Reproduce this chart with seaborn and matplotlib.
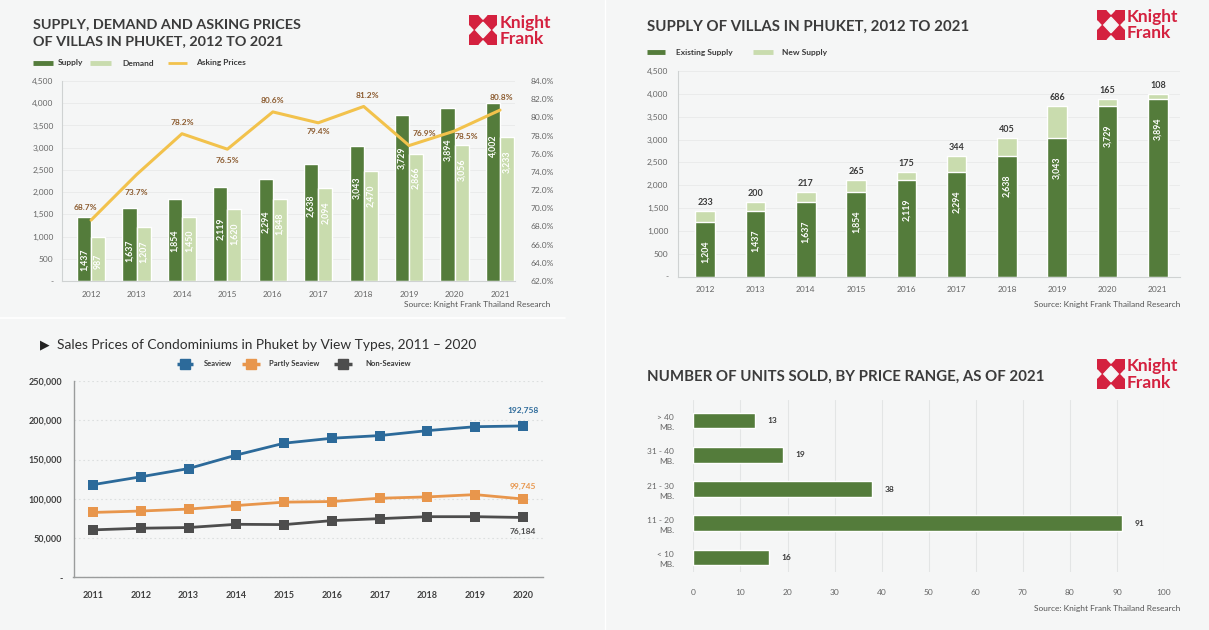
import numpy as np
import pandas as pd
import matplotlib
matplotlib.use("Agg")
import matplotlib.pyplot as plt
from matplotlib.lines import Line2D
from matplotlib.patches import Rectangle, Polygon
import seaborn as sns

# ---------------- data ----------------
years = [2012, 2013, 2014, 2015, 2016, 2017, 2018, 2019, 2020, 2021]
supply = [1437, 1637, 1854, 2119, 2294, 2638, 3043, 3729, 3894, 4002]
demand = [987, 1207, 1450, 1620, 1848, 2094, 2470, 2866, 3056, 3233]
asking_pct = [68.7, 73.7, 78.2, 76.5, 80.6, 79.4, 81.2, 76.9, 78.5, 80.8]

existing_supply = [1204, 1437, 1637, 1854, 2119, 2294, 2638, 3043, 3729, 3894]
new_supply = [233, 200, 217, 265, 175, 344, 405, 686, 165, 108]

condo_years = [2011, 2012, 2013, 2014, 2015, 2016, 2017, 2018, 2019, 2020]
seaview = [118000, 128000, 138500, 155700, 170800, 177100, 180500, 186800, 191800, 192758]
partly_seaview = [82600, 84400, 86900, 91400, 95700, 96500, 100700, 102400, 105300, 99745]
non_seaview = [60400, 62500, 63400, 67500, 67100, 72200, 74700, 77200, 77200, 76184]

price_ranges = ["> 40\nMB.", "31 - 40\nMB.", "21 - 30\nMB.", "11 - 20\nMB.", "< 10\nMB."]
units_sold = [13, 19, 38, 91, 16]

# ---------------- style ----------------
W, H = 1209, 630
BG = "#f5f6f6"
DARK = "#547c3b"
LIGHT = "#c9dcae"
GOLD = "#f2c24c"
BROWN = "#8c5c30"
BLUE = "#2c6a9a"
ORANGE = "#e8964c"
GREY = "#4d4d4d"
RED = "#d4213f"
TXT = "#3b3b3b"
TICK = "#666666"

sns.set_theme(style="white")
plt.rcParams["font.family"] = ["Lato", "DejaVu Sans"]
plt.rcParams["axes.facecolor"] = BG

fig = plt.figure(figsize=(W / 100, H / 100), dpi=100, facecolor=BG)


def fx(x):
    return x / W


def fy(y):
    return 1 - y / H


def axes_px(x0, y0, x1, y1):
    return fig.add_axes([x0 / W, 1 - y1 / H, (x1 - x0) / W, (y1 - y0) / H])


def ftext(x, y, s, **kw):
    return fig.text(fx(x), fy(y), s, **kw)


def legend_line(x0, x1, y, color, lw=3.5, marker=None):
    fig.add_artist(Line2D([fx(x0), fx(x1)], [fy(y), fy(y)], transform=fig.transFigure,
                          color=color, lw=lw, solid_capstyle="butt"))
    if marker:
        fig.add_artist(Line2D([fx((x0 + x1) / 2)], [fy(y)], transform=fig.transFigure,
                              color=color, marker=marker, markersize=6.5, lw=0))


def logo(x0, y0, tx, ty1, ty2):
    la = axes_px(x0, y0, x0 + 28, y0 + 30)
    la.set_xlim(0, 1)
    la.set_ylim(0, 1)
    la.axis("off")
    la.add_patch(Rectangle((0, 0), 1, 1, color=RED))
    la.add_patch(Polygon([(0.5, 0.24), (0.76, 0.5), (0.5, 0.76), (0.24, 0.5)], color=BG))
    for pts in ([(0.36, 1.0), (0.64, 1.0), (0.5, 0.86)], [(0.36, 0.0), (0.64, 0.0), (0.5, 0.14)],
                [(0.0, 0.36), (0.0, 0.64), (0.14, 0.5)], [(1.0, 0.36), (1.0, 0.64), (0.86, 0.5)]):
        la.add_patch(Polygon(pts, color=BG))
    ftext(tx, ty1, "Knight", color=RED, fontsize=12.5, fontweight="bold", va="center", ha="left")
    ftext(tx, ty2, "Frank", color=RED, fontsize=12.5, fontweight="bold", va="center", ha="left")


# faint panel separators
fig.add_artist(Line2D([fx(0), fx(565)], [fy(318), fy(318)], transform=fig.transFigure, color="white", lw=1.2))
fig.add_artist(Line2D([fx(605), fx(605)], [fy(0), fy(630)], transform=fig.transFigure, color="white", lw=1.0))

# =============== Top-left: supply, demand, asking prices ===============
ftext(33, 24, "SUPPLY, DEMAND AND ASKING PRICES", fontsize=10.4, fontweight="bold", color=TXT, va="center")
ftext(33, 41, "OF VILLAS IN PHUKET, 2012 TO 2021", fontsize=10.4, fontweight="bold", color=TXT, va="center")
logo(469, 15, 500, 23, 39)
legend_line(33, 53, 63, DARK)
ftext(58, 63, "Supply", fontsize=6, fontweight="bold", color=TXT, va="center")
legend_line(90, 111, 63, LIGHT)
ftext(122, 63, "Demand", fontsize=6, fontweight="bold", color=TXT, va="center")
legend_line(168, 187, 63, GOLD, lw=2)
ftext(196, 63, "Asking Prices", fontsize=6, fontweight="bold", color=TXT, va="center")

df1 = pd.DataFrame({
    "year": [str(y) for y in years] * 2,
    "units": supply + demand,
    "series": ["Supply"] * len(years) + ["Demand"] * len(years),
})
ax1 = axes_px(62, 81, 515, 281)
sns.barplot(data=df1, x="year", y="units", hue="series", palette=[DARK, LIGHT],
            width=0.62, gap=0, saturation=1, legend=False, ax=ax1)
ax1.set_xlim(-0.64, 9.33)
ax1.set_ylim(0, 4500)
ax1.set_yticks(np.arange(0, 4501, 500))
ax1.set_yticklabels(["-"] + [f"{v:,}" for v in range(500, 4501, 500)])
ax1.set_xlabel("")
ax1.set_ylabel("")
ax1.tick_params(axis="both", length=0, labelsize=6, colors=TICK)
ax1.tick_params(axis="y", pad=6)
ax1.tick_params(axis="x", pad=7)
ax1.yaxis.grid(True, color="#e8eaea", lw=0.6)
ax1.set_axisbelow(True)
for s in ["top", "right"]:
    ax1.spines[s].set_visible(False)
for s in ["left", "bottom"]:
    ax1.spines[s].set_color("#cfd2d2")
    ax1.spines[s].set_linewidth(0.8)
for i, (s_, d_) in enumerate(zip(supply, demand)):
    ax1.text(i - 0.155, s_ - 950, f"{s_:,}", rotation=90, ha="center", va="center",
             color="white", fontsize=6.3, fontweight="bold")
    ax1.text(i + 0.155, d_ - 550, f"{d_:,}", rotation=90, ha="center", va="center",
             color="white", fontsize=6.3, fontweight="bold")

ax1b = ax1.twinx()
ax1b.set_position(ax1.get_position())
sns.lineplot(x=np.arange(len(years)), y=asking_pct, color=GOLD, lw=2.2, ax=ax1b)
ax1b.set_ylim(62, 84)
ax1b.set_xlim(-0.64, 9.33)
ax1b.set_yticks(np.arange(62, 84.1, 2))
ax1b.set_yticklabels([f"{t:.1f}%" for t in np.arange(62, 84.1, 2)])
ax1b.tick_params(axis="y", length=0, labelsize=6, colors=TICK, pad=11)
ax1b.set_ylabel("")
for s in ax1b.spines.values():
    s.set_visible(False)
pct_offsets_px = [(-6, 13), (0, -18), (0, 11), (0, -11.5), (0, 11), (0, -9), (4, 10.5), (15, 12.5), (12, -6), (1, 13)]
for i, (p, off) in enumerate(zip(asking_pct, pct_offsets_px)):
    ax1b.annotate(f"{p:.1f}%", (i, p), xytext=(off[0] * 0.72, off[1] * 0.72), textcoords="offset points",
                  ha="center", va="center", fontsize=6, fontweight="bold", color=BROWN)
ftext(550, 304, "Source: Knight Frank Thailand Research", fontsize=6, color="#555555", ha="right", va="center")

# =============== Top-right: supply of villas ===============
ftext(647, 27, "SUPPLY OF VILLAS IN PHUKET, 2012 TO 2021", fontsize=10.8, fontweight="bold", color=TXT, va="center")
logo(1097, 10, 1127, 17, 33)
legend_line(647, 665, 52, DARK)
ftext(676, 52, "Existing Supply", fontsize=6, fontweight="bold", color=TXT, va="center")
legend_line(753, 773, 52, LIGHT)
ftext(782, 52, "New Supply", fontsize=6, fontweight="bold", color=TXT, va="center")

ax2 = axes_px(678, 71, 1180, 276.7)
year_lbl = [str(y) for y in years]
total_supply = [e + n for e, n in zip(existing_supply, new_supply)]
sns.barplot(x=year_lbl, y=total_supply, color=LIGHT, width=0.39, saturation=1, ax=ax2)
sns.barplot(x=year_lbl, y=existing_supply, color=DARK, width=0.39, saturation=1, ax=ax2)
ax2.set_xlim(-0.54, 9.44)
ax2.set_ylim(0, 4500)
ax2.set_yticks(np.arange(0, 4501, 500))
ax2.set_yticklabels(["-"] + [f"{v:,}" for v in range(500, 4501, 500)])
ax2.tick_params(axis="both", length=0, labelsize=6, colors=TICK)
ax2.tick_params(axis="y", pad=7)
ax2.tick_params(axis="x", pad=7)
ax2.yaxis.grid(True, color="#e8eaea", lw=0.6)
ax2.set_axisbelow(True)
for s in ["top", "right"]:
    ax2.spines[s].set_visible(False)
for s in ["left", "bottom"]:
    ax2.spines[s].set_color("#cfd2d2")
    ax2.spines[s].set_linewidth(0.8)
for i, (e, n, t) in enumerate(zip(existing_supply, new_supply, total_supply)):
    ax2.text(i, e - 650, f"{e:,}", rotation=90, ha="center", va="center", color="white",
             fontsize=6.3, fontweight="bold")
    ax2.annotate(f"{n}", (i, t), xytext=(0, 6), textcoords="offset points", ha="center",
                 va="center", fontsize=6.5, fontweight="bold", color=TXT)
ftext(1180, 304, "Source: Knight Frank Thailand Research", fontsize=6, color="#555555", ha="right", va="center")

# =============== Bottom-left: condo prices ===============
ftext(40, 345, "\u25B6", fontsize=9, color="#222222", va="center", ha="left", family=["DejaVu Sans"])
ftext(57, 345, "Sales Prices of Condominiums in Phuket by View Types, 2011 \u2013 2020",
      fontsize=9.9, color="#2f2f2f", va="center", ha="left")
legend_line(177, 193, 364, BLUE, lw=2.5, marker="s")
ftext(204, 364, "Seaview", fontsize=5.5, fontweight="bold", color=TXT, va="center")
legend_line(242, 260, 364, ORANGE, lw=2.5, marker="s")
ftext(269, 364, "Partly Seaview", fontsize=5.5, fontweight="bold", color=TXT, va="center")
legend_line(334, 352, 364, GREY, lw=2.5, marker="s")
ftext(365, 364, "Non-Seaview", fontsize=5.5, fontweight="bold", color=TXT, va="center")

ax3 = axes_px(73.5, 381, 543, 577.3)
for vals, col in ((seaview, BLUE), (partly_seaview, ORANGE), (non_seaview, GREY)):
    sns.lineplot(x=condo_years, y=vals, color=col, lw=2, marker="s", markersize=7,
                 markeredgewidth=0, ax=ax3)
ax3.set_xlim(2011 - 0.41, 2020 + 0.42)
ax3.set_ylim(0, 250000)
ax3.set_xticks(condo_years)
ax3.set_xticklabels([str(y) for y in condo_years])
ax3.set_yticks(np.arange(0, 250001, 50000))
ax3.set_yticklabels(["-"] + [f"{v:,}" for v in range(50000, 250001, 50000)])
ax3.tick_params(axis="both", length=0, labelsize=6.5, colors="#3f3f3f")
ax3.tick_params(axis="y", pad=8)
ax3.tick_params(axis="x", pad=10)
for lbl in ax3.get_xticklabels() + ax3.get_yticklabels():
    lbl.set_fontweight("bold")
ax3.yaxis.grid(True, color="#dcdfdf", lw=0.8, ls=(0, (1.5, 2.5)))
ax3.set_axisbelow(True)
for s in ["top", "right"]:
    ax3.spines[s].set_visible(False)
for s in ["left", "bottom"]:
    ax3.spines[s].set_color("#9a9c9c")
    ax3.spines[s].set_linewidth(1.0)
ax3.annotate(f"{seaview[-1]:,}", (condo_years[-1], seaview[-1]), xytext=(0, 11), textcoords="offset points",
             ha="center", va="center", fontsize=6, color=BLUE, fontweight="bold")
ax3.annotate(f"{partly_seaview[-1]:,}", (condo_years[-1], partly_seaview[-1]), xytext=(0, 9),
             textcoords="offset points", ha="center", va="center", fontsize=6, color=ORANGE, fontweight="bold")
ax3.annotate(f"{non_seaview[-1]:,}", (condo_years[-1], non_seaview[-1]), xytext=(0, -10),
             textcoords="offset points", ha="center", va="center", fontsize=6, color=GREY, fontweight="bold")

# =============== Bottom-right: units sold ===============
ftext(647, 377, "NUMBER OF UNITS SOLD, BY PRICE RANGE, AS OF 2021", fontsize=10.8, fontweight="bold",
      color=TXT, va="center")
logo(1097, 359, 1127, 366, 383)

ax4 = axes_px(693.4, 400, 1164, 572)
sns.barplot(x=units_sold, y=price_ranges, orient="h", color=DARK, width=0.46, saturation=1, ax=ax4)
ax4.set_xlim(0, 100)
ax4.set_ylim(4.42, -0.6)
ax4.set_xticks(np.arange(0, 101, 10))
ax4.tick_params(axis="both", length=0, labelsize=6, colors=TICK)
ax4.tick_params(axis="x", pad=12)
ax4.tick_params(axis="y", pad=14)
for lbl in ax4.get_yticklabels():
    lbl.set_horizontalalignment("right")
    lbl.set_multialignment("right")
    lbl.set_linespacing(1.5)
ax4.xaxis.grid(True, color="#e3e5e5", lw=0.8)
ax4.set_axisbelow(True)
for s in ax4.spines.values():
    s.set_visible(False)
for i, v in enumerate(units_sold):
    ax4.annotate(f"{v}", (v, i), xytext=(9, 0), textcoords="offset points", ha="left", va="center",
                 fontsize=6, fontweight="bold", color=TXT)
ftext(1180, 609, "Source: Knight Frank Thailand Research", fontsize=6, color="#555555", ha="right", va="center")

fig.savefig("out.png", dpi=100, facecolor=BG)
